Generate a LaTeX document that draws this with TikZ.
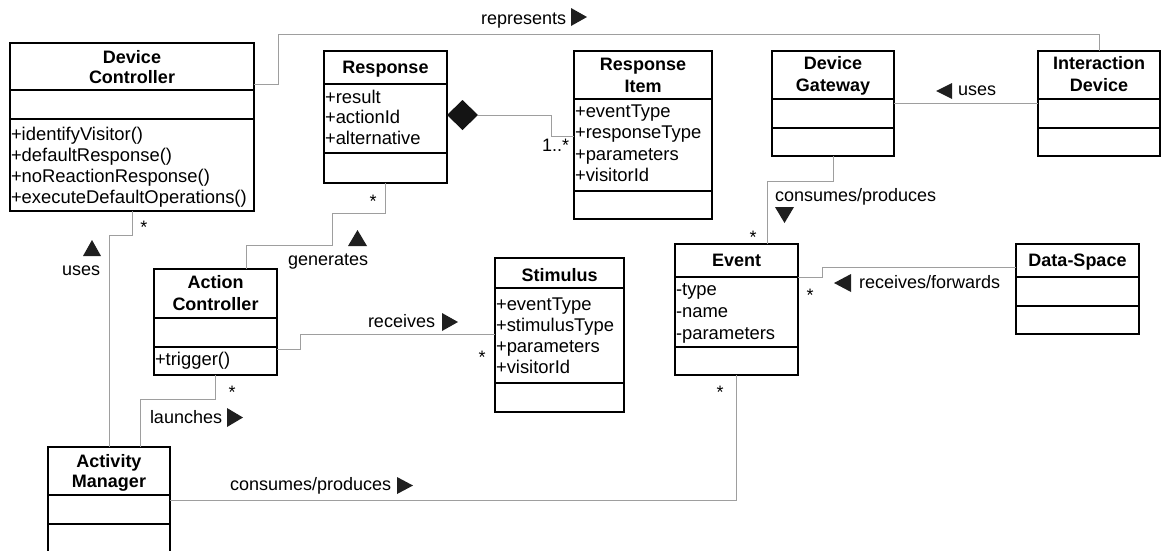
\documentclass[tikz,border=0pt]{standalone}
\usepackage{fontspec}
\setmainfont{Liberation Sans}
\usetikzlibrary{shapes.geometric}

% class frame with its three compartments: name, left, top, right, sep1, sep2, bottom
\newcommand\umlbox[7]{%
  \node[classbox, minimum width={(#4-#2)*1pt}, minimum height={(#7-#3)*1pt},
        anchor=north west] (#1) at (#2,#3) {};
  \draw[classline] (#1.west |- 0,#5) -- (#1.east |- 0,#5);
  \draw[classline] (#1.west |- 0,#6) -- (#1.east |- 0,#6);
}
% member lines: prefix, x, first baseline, line step, list
\newcommand\members[5]{%
  \foreach \s [count=\i] in {#5}
    \node[member] (#1-\i) at (#2,{#3+(\i-1)*#4}) {\s};
}
% filled direction marks: x1, x2, y1, y2
\newcommand\tipright[4]{\fill[tri] (#1,#3) -- (#2,{(#3+#4)/2}) -- (#1,#4) -- cycle;}
\newcommand\tipleft[4]{\fill[tri] (#2,#3) -- (#1,{(#3+#4)/2}) -- (#2,#4) -- cycle;}
\newcommand\tipup[4]{\fill[tri] (#1,#4) -- ({(#1+#2)/2},#3) -- (#2,#4) -- cycle;}
\newcommand\tipdown[4]{\fill[tri] (#1,#3) -- ({(#1+#2)/2},#4) -- (#2,#3) -- cycle;}

\tikzset{
  every node/.style={font=\fontsize{18}{21}\selectfont, inner sep=0pt, outer sep=0pt, text=black},
  classbox/.style={draw=black, line width=1.3pt},
  classline/.style={draw=black, line width=1.3pt},
  conn/.style={draw=black!38, line width=1pt},
  title/.style={font=\fontsize{18}{21}\selectfont\bfseries, anchor=base},
  member/.style={font=\fontsize{18.4}{21}\selectfont, anchor=base west},
  mult/.style={anchor=base},
  rolelbl/.style={anchor=base west},
  tri/.style={fill=black!88},
}

\begin{document}
\begin{tikzpicture}[x=1pt, y=-1pt]
\useasboundingbox (0,0) rectangle (1161,550);
\clip (0,0) rectangle (1161,550);

% ---------- classes ----------
\umlbox{dc}{10}{43}{254}{90}{119}{211}
\node[title] (dc-t1) at (132,63) {Device};
\node[title] (dc-t2) at (132,83) {Controller};
\members{dc-m}{11}{140}{21}{+identifyVisitor(),+defaultResponse(),+noReactionResponse(),+executeDefaultOperations()}

\umlbox{resp}{324}{51}{447}{84}{153}{183}
\node[title] (resp-t1) at (385.5,73) {Response};
\members{resp-a}{325}{103}{20.5}{+result,+actionId,+alternative}

\umlbox{ri}{574}{51}{712}{99}{191}{219}
\node[title] (ri-t1) at (643,70) {Response};
\node[title] (ri-t2) at (643,92) {Item};
\members{ri-a}{575}{117}{21.5}{+eventType,+responseType,+parameters,+visitorId}

\umlbox{dg}{772}{51}{894}{99}{128}{156}
\node[title] (dg-t1) at (833,69) {Device};
\node[title] (dg-t2) at (833,91) {Gateway};

\umlbox{idev}{1038}{51}{1160}{99}{128}{156}
\node[title] (idev-t1) at (1099,69) {Interaction};
\node[title] (idev-t2) at (1099,91) {Device};

\umlbox{ac}{154}{269}{277}{318}{347}{375}
\node[title] (ac-t1) at (215.5,288) {Action};
\node[title] (ac-t2) at (215.5,310) {Controller};
\members{ac-m}{155}{365}{21}{+trigger()}

\umlbox{stim}{495}{258}{624}{288}{383}{412}
\node[title] (stim-t1) at (559.5,281) {Stimulus};
\members{stim-a}{496}{310}{21.3}{+eventType,+stimulusType,+parameters,+visitorId}

\umlbox{ev}{675}{244}{798}{277}{347}{375}
\node[title] (ev-t1) at (736.5,266) {Event};
\members{ev-a}{676}{295.5}{22}{-type,-name,-parameters}

\umlbox{ds}{1016}{244}{1139}{277}{306}{334}
\node[title] (ds-t1) at (1077.5,266) {Data-Space};

\umlbox{am}{48}{447}{170}{495}{524}{553}
\node[title] (am-t1) at (109,467) {Activity};
\node[title] (am-t2) at (109,487) {Manager};

% ---------- composition ----------
\node[diamond, fill=black!92, minimum width=31pt, minimum height=30pt, anchor=west]
  (comp) at (resp.east |- 0,115) {};

% ---------- connectors ----------
\draw[conn] (dc.east |- 0,84) -| (278,34) -| (idev.north);
\draw[conn] (comp.east) -| (551,136) -- (ri.west |- 0,136);
\draw[conn] (resp.south) |- (332,213) -- (332,245) -| (ac.north -| 246,0);
\draw[conn] (dc.south) |- (109,235) -- (am.north -| 109,0);
\draw[conn] (ac.east |- 0,349) -| (300,334) -- (stim.west |- 0,334);
\draw[conn] (ac.south) |- (140,399) -- (am.north -| 140,0);
\draw[conn] (am.east |- 0,500) -| (ev.south);
\draw[conn] (dg.south) |- (767,181) -- (ev.north -| 767,0);
\draw[conn] (dg.east |- 0,103) -- (idev.west |- 0,103);
\draw[conn] (ev.east |- 0,277) -| (822,267) -- (ds.west |- 0,267);

% ---------- association names ----------
\node[rolelbl] (l-repr) at (481,24) {represents};
\tipright{571}{587}{8}{26}
\node[rolelbl] (l-uses1) at (958,95) {uses};
\tipleft{936}{952}{83}{99}
\node[rolelbl] (l-cp1) at (775,201) {consumes/produces};
\tipdown{775}{794}{207}{223}
\node[rolelbl] (l-rf) at (859,288) {receives/forwards};
\tipleft{834}{851}{274}{292}
\node[rolelbl] (l-gen) at (288,265) {generates};
\tipup{348}{367}{230}{246}
\node[rolelbl] (l-recv) at (368,327) {receives};
\tipright{442}{458}{313}{331}
\node[rolelbl] (l-launch) at (150,423) {launches};
\tipright{227}{243}{408}{427}
\node[rolelbl] (l-cp2) at (230,490) {consumes/produces};
\tipright{397}{413}{477}{494}
\node[rolelbl] (l-uses2) at (62,275) {uses};
\tipup{83}{101}{240}{256}

% ---------- multiplicities ----------
\node[rolelbl] (m-comp) at (542,151) {1..*};
\node[mult] (m1) at (144,233) {*};
\node[mult] (m2) at (373,207) {*};
\node[mult] (m3) at (232,398) {*};
\node[mult] (m4) at (482,363) {*};
\node[mult] (m5) at (753,243) {*};
\node[mult] (m6) at (810,301) {*};
\node[mult] (m7) at (720,398) {*};
\end{tikzpicture}
\end{document}
